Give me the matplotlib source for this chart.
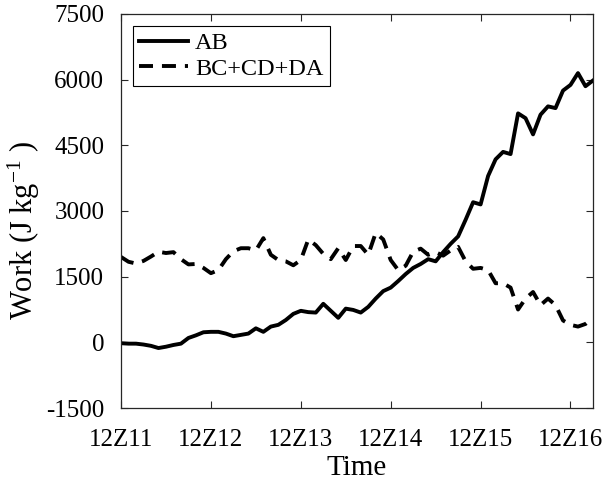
import matplotlib
matplotlib.use("Agg")
import matplotlib.pyplot as plt
import numpy as np

plt.rcParams['font.family'] = ['Liberation Serif', 'DejaVu Serif']
plt.rcParams['mathtext.fontset'] = 'custom'
plt.rcParams['mathtext.rm'] = 'Liberation Serif'
plt.rcParams['mathtext.it'] = 'Liberation Serif:italic'
plt.rcParams['axes.unicode_minus'] = False

# Hours since 12Z11, every 2 hours
hours = list(range(0, 127, 2))

work_ab = [
    -20, -30, -30, -50, -80, -130, -100, -60, -30, 100,
    160, 230, 240, 240, 200, 140, 170, 200, 320, 240,
    360, 400, 510, 650, 720, 690, 680, 880, 720, 560,
    770, 740, 680, 810, 1000, 1170, 1250, 1400, 1560, 1700,
    1790, 1900, 1850, 2060, 2250, 2420, 2800, 3200, 3150, 3800,
    4180, 4350, 4300, 5230, 5120, 4750, 5200, 5390, 5350, 5750,
    5880, 6150, 5850, 5980,
]

work_bc_cd_da = [
    1950, 1840, 1800, 1860, 1960, 2070, 2040, 2060, 1900, 1780,
    1790, 1700, 1580, 1650, 1900, 2080, 2150, 2150, 2100, 2380,
    2000, 1880, 1850, 1760, 1880, 2350, 2220, 2020, 1900, 2150,
    1880, 2200, 2200, 2000, 2500, 2350, 1880, 1650, 1750, 2070,
    2140, 2000, 2060, 1980, 2100, 2180, 1850, 1680, 1700, 1650,
    1350, 1350, 1250, 750, 1000, 1150, 850, 1000, 850, 500,
    400, 360, 420, 560,
]

tick_days = [0, 1, 2, 3, 4, 5]
tick_labels = ['12Z11', '12Z12', '12Z13', '12Z14', '12Z15', '12Z16']
y_ticks = [-1500, 0, 1500, 3000, 4500, 6000, 7500]

days = np.array(hours) / 24.0

fig = plt.figure(figsize=(6.06, 4.82), dpi=100)
ax = fig.add_axes([0.1997, 0.1535, 0.7788, 0.8175])

ax.plot(days, work_ab, color='black', lw=2.8, solid_joinstyle='round',
        label='AB')
ax.plot(days, work_bc_cd_da, color='black', lw=2.8, linestyle=(0, (3.6, 2.3)),
        dash_capstyle='butt', label='BC+CD+DA')

ax.set_xlim(0, 5.25)
ax.set_ylim(-1500, 7500)
ax.set_xticks(tick_days)
ax.set_xticklabels(tick_labels)
ax.set_yticks(y_ticks)

ax.tick_params(axis='both', direction='in', length=5, width=0.8,
               top=True, right=True, labelsize=18, color='#262626')
ax.tick_params(axis='x', pad=15)
ax.tick_params(axis='y', pad=12)
for s in ax.spines.values():
    s.set_linewidth(0.9)
    s.set_color('#262626')

ax.set_xlabel('Time', fontsize=21, labelpad=3)
ax.set_ylabel('Work (J kg$^{\\mathrm{-1}}$ )', fontsize=22)
ax.yaxis.set_label_coords(-0.168, 0.45)

leg = ax.legend(loc='upper left', fontsize=17.5, frameon=True, fancybox=False,
                edgecolor='black', framealpha=1, handlelength=2.0,
                handletextpad=0.3, borderpad=0.25, labelspacing=0.15,
                borderaxespad=0.5)
leg.get_frame().set_linewidth(0.8)

fig.savefig('out.png', dpi=100)
